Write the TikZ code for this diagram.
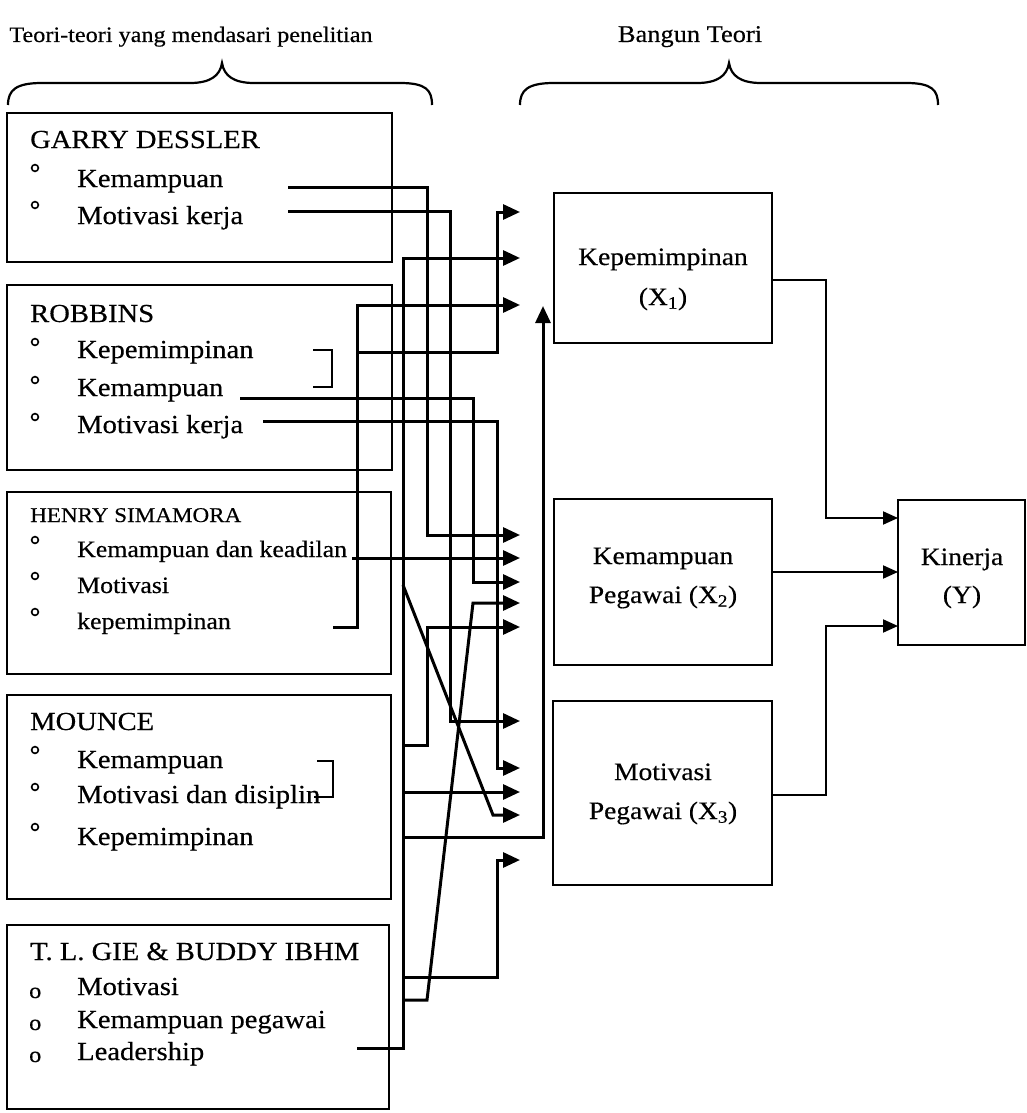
\documentclass[tikz,border=0pt]{standalone}
\usepackage{fontspec}
\setmainfont{Liberation Serif}[FakeStretch=1.1,FakeBold=0.4]
\usetikzlibrary{arrows.meta}
\newcommand{\fsz}[1]{\fontsize{#1}{#1}\selectfont}
\begin{document}
\begin{tikzpicture}[x=1pt,y=-1pt,
  box/.style={draw, line width=2.4pt, inner sep=0pt, outer sep=0pt},
  rbox/.style={draw, line width=2pt, inner sep=0pt, outer sep=0pt},
  lbl/.style={anchor=base west, inner sep=0pt, font=\fsz{26}},
  hlbl/.style={anchor=base west, inner sep=0pt, font=\fsz{23.5}},
  rtxt/.style={anchor=base, inner sep=0pt, font=\fsz{25}},
  head/.style={anchor=base, inner sep=0pt},
  wire/.style={line width=3pt},
  arr/.style={wire, -{Triangle[length=17pt,width=15pt]}},
  rarr/.style={line width=2pt, -{Triangle[length=15pt,width=13pt]}},
  brc/.style={line width=2.2pt},
  bul/.style={line width=1.6pt}
]
\useasboundingbox (0,0) rectangle (1027,1113);

% headers
\node[head, font=\fsz{22}] (h1) at (191,42) {Teori-teori yang mendasari penelitian};
\node[head, font=\fsz{24}] (h2) at (690,42) {Bangun Teori};
\draw[brc] (8,105) .. controls (8,90) and (16,83) .. (42,83) -- (190,83)
  .. controls (210,83) and (220,76) .. (222,63)
  .. controls (224,76) and (234,83) .. (254,83) -- (400,83)
  .. controls (426,83) and (432,90) .. (432,105);
\draw[brc] (520,105) .. controls (520,90) and (528,83) .. (554,83) -- (697,83)
  .. controls (717,83) and (727,76) .. (729,63)
  .. controls (731,76) and (741,83) .. (761,83) -- (906,83)
  .. controls (932,83) and (938,90) .. (938,105);

% left boxes
\node[box, anchor=north west, minimum width=385pt, minimum height=149pt] (gd) at (7,113) {};
\node[box, anchor=north west, minimum width=385pt, minimum height=185pt] (rb) at (7,285) {};
\node[box, anchor=north west, minimum width=384pt, minimum height=182pt] (hs) at (7,492) {};
\node[box, anchor=north west, minimum width=384pt, minimum height=204pt] (mo) at (7,695) {};
\node[box, anchor=north west, minimum width=382pt, minimum height=184pt] (tl) at (7,925) {};

% GARRY DESSLER
\node[lbl] (gdT) at (30,148) {GARRY DESSLER};
\node[lbl] (gd1) at (77,187) {Kemampuan};
\node[lbl] (gd2) at (77,224) {Motivasi kerja};
\draw[bul] (35,168) circle (3.4) (35,205) circle (3.4);

% ROBBINS
\node[lbl] (rbT) at (30,322) {ROBBINS};
\node[lbl] (rb1) at (77,358) {Kepemimpinan};
\node[lbl] (rb2) at (77,396) {Kemampuan};
\node[lbl] (rb3) at (77,433) {Motivasi kerja};
\draw[bul] (35,342) circle (3.4) (35,380) circle (3.4) (35,417) circle (3.4);

% HENRY SIMAMORA
\node[anchor=base west, inner sep=0pt, font=\fsz{21}] (hsT) at (30,522) {HENRY SIMAMORA};
\node[hlbl] (hs1) at (77,557) {Kemampuan dan keadilan};
\node[hlbl] (hs2) at (77,593) {Motivasi};
\node[hlbl] (hs3) at (77,629) {kepemimpinan};
\draw[bul] (35,540) circle (3.4) (35,576) circle (3.4) (35,612) circle (3.4);

% MOUNCE
\node[lbl] (moT) at (30,730) {MOUNCE};
\node[lbl] (mo1) at (77,768) {Kemampuan};
\node[lbl] (mo2) at (77,803) {Motivasi dan disiplin};
\node[lbl] (mo3) at (77,845) {Kepemimpinan};
\draw[bul] (35,750) circle (3.4) (35,787) circle (3.4) (35,827) circle (3.4);

% T. L. GIE
\node[lbl] (tlT) at (30,960) {T. L. GIE \& BUDDY IBHM};
\node[lbl] (tl1) at (77,995) {Motivasi};
\node[lbl] (tl2) at (77,1028) {Kemampuan pegawai};
\node[lbl] (tl3) at (77,1060) {Leadership};
\node[anchor=base west, inner sep=0pt, font=\fsz{22}] (tlb1) at (29,998) {o};
\node[anchor=base west, inner sep=0pt, font=\fsz{22}] (tlb2) at (29,1030) {o};
\node[anchor=base west, inner sep=0pt, font=\fsz{22}] (tlb3) at (29,1062) {o};

% brackets
\draw[wire, line width=2.4pt] (313,350) -- (332,350) -- (332,387) -- (313,387);
\draw[wire, line width=2.4pt] (317,761) -- (333,761) -- (333,797) -- (314,797);

% right boxes
\node[rbox, anchor=north west, minimum width=218pt, minimum height=150pt] (kep) at (554,193) {};
\node[rbox, anchor=north west, minimum width=218pt, minimum height=166pt] (kem) at (554,499) {};
\node[rbox, anchor=north west, minimum width=219pt, minimum height=184pt] (mot) at (553,701) {};
\node[rbox, anchor=north west, minimum width=127pt, minimum height=145pt] (kin) at (898,500) {};

\node[rtxt] (kepA) at (663,265) {Kepemimpinan};
\node[rtxt] (kepB) at (663,305) {(X\textsubscript{1})};
\node[rtxt] (kemA) at (663,564) {Kemampuan};
\node[rtxt] (kemB) at (663,603) {Pegawai (X\textsubscript{2})};
\node[rtxt] (motA) at (663,780) {Motivasi};
\node[rtxt] (motB) at (663,819) {Pegawai (X\textsubscript{3})};
\node[rtxt] (kinA) at (962,565) {Kinerja};
\node[rtxt] (kinB) at (962,603) {(Y)};

% coordinates: starts
\coordinate (sGK) at (288,187);
\coordinate (sGM) at (288,211);
\coordinate (sRK) at (240,398);
\coordinate (sRM) at (263,421);
\coordinate (sHL) at (333,627);
\coordinate (sHK) at (352,558);
\coordinate (sTL) at (357,1048);
\coordinate (jH) at (357,352);
\coordinate (j1) at (403,585);
\coordinate (j2) at (403,745);
\coordinate (j3) at (403,792);
\coordinate (j4) at (403,837);
\coordinate (j5) at (403,977);
\coordinate (j6) at (403,1000);
% arrow tips
\coordinate (a1) at (520,212);
\coordinate (a2) at (520,258);
\coordinate (a3) at (520,305);
\coordinate (b1) at (520,535);
\coordinate (b2) at (520,558);
\coordinate (b3) at (520,582);
\coordinate (b4) at (520,603);
\coordinate (b5) at (520,627);
\coordinate (c1) at (520,721);
\coordinate (c2) at (520,768);
\coordinate (c3) at (520,792);
\coordinate (c4) at (520,815);
\coordinate (c5) at (520,860);
\coordinate (up) at (543,306);

% left connectors
\draw[arr] (sGK) -- (427,187) -- (427,535) -- (b1);
\draw[arr] (sGM) -- (450,211) -- (450,721) -- (c1);
\draw[arr] (sRK) -- (473,398) -- (473,582) -- (b3);
\draw[arr] (sRM) -- (497,421) -- (497,768) -- (c2);
\draw[arr] (sHL) -- (357,627) -- (357,305) -- (a3);
\draw[arr] (jH) -- (497,352) -- (497,212) -- (a1);
\draw[arr] (sHK) -- (b2);
\draw[arr] (sTL) -- (403,1048) -- (403,258) -- (a2);
\draw[arr] (j1) -- (493,815) -- (c4);
\draw[arr] (j2) -- (427,745) -- (427,627) -- (b5);
\draw[arr] (j3) -- (c3);
\draw[arr] (j4) -- (543,837) -- (up);
\draw[arr] (j5) -- (497,977) -- (497,860) -- (c5);
\draw[arr] (j6) -- (427,1000) -- (473,603) -- (b4);

% right connectors
\draw[rarr] (kep.east |- 0,280) -| (826,518) -- (kin.west |- 0,518);
\draw[rarr] (kem.east |- 0,572) -- (kin.west |- 0,572);
\draw[rarr] (mot.east |- 0,795) -| (826,626) -- (kin.west |- 0,626);
\end{tikzpicture}
\end{document}
